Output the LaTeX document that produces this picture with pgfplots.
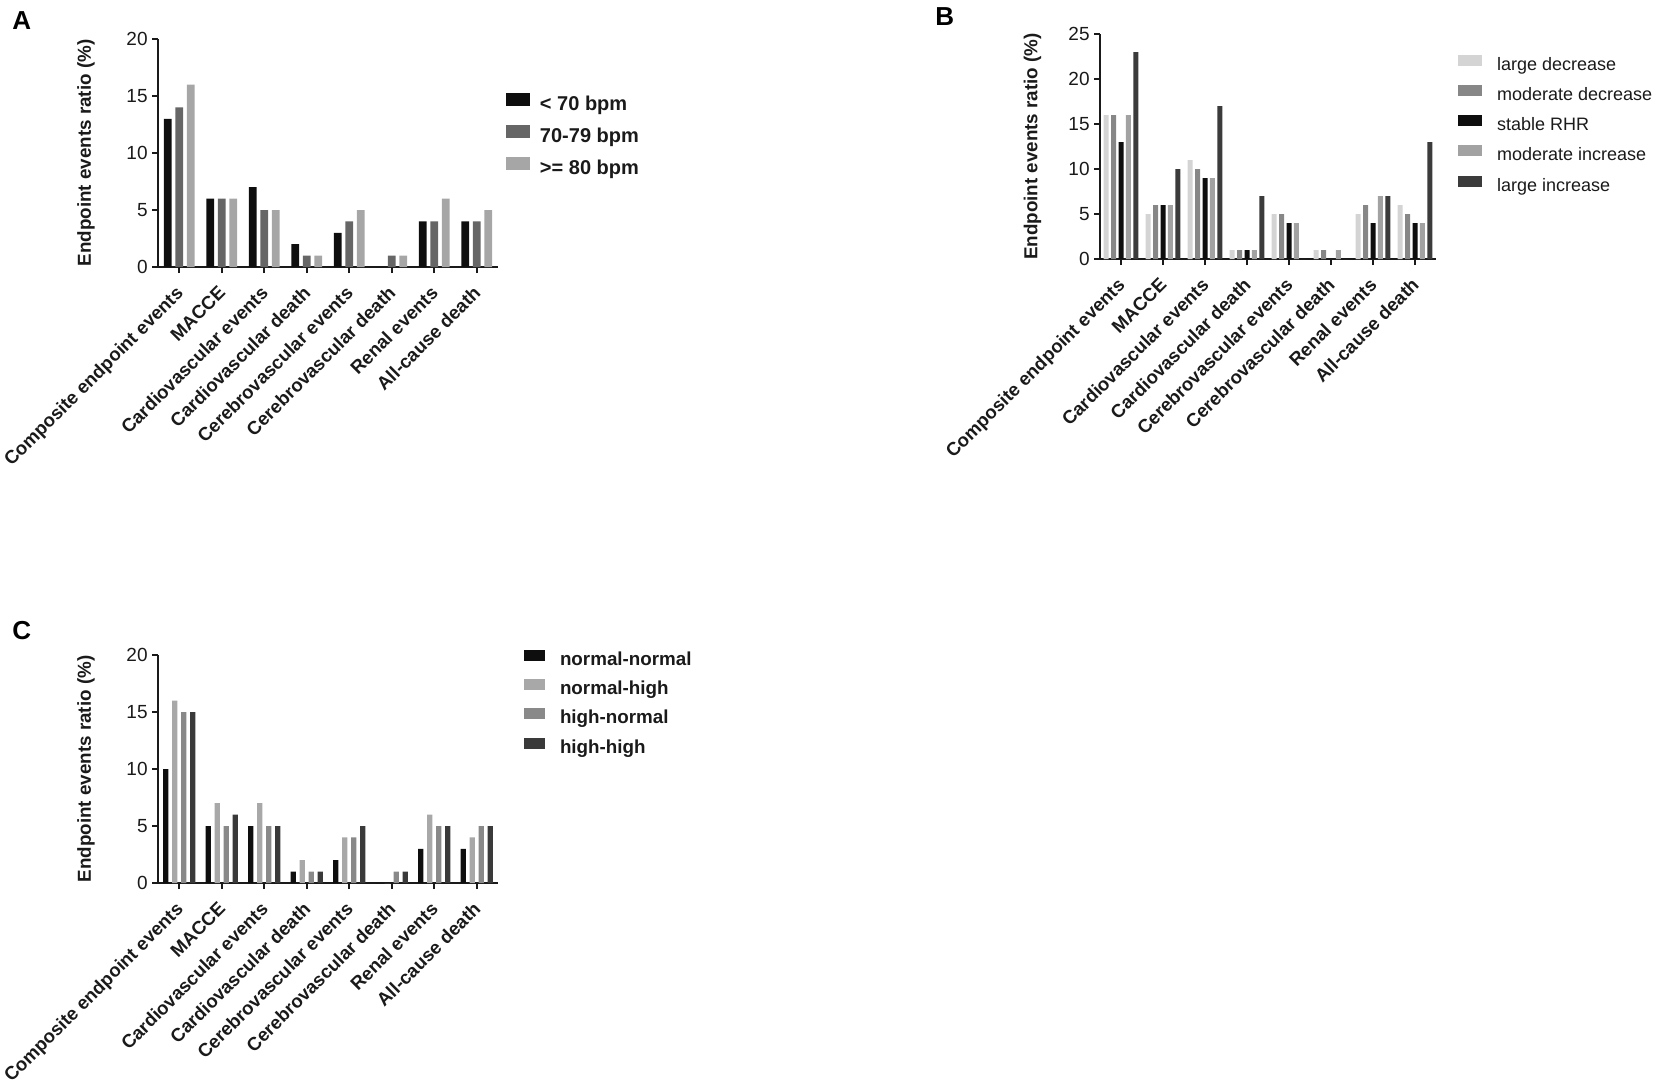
\documentclass[border=0pt]{standalone}
\usepackage{fontspec}
\setmainfont{Liberation Sans}
\usepackage{pgfplots}
\pgfplotsset{compat=1.18}

\definecolor{aA}{HTML}{0E0E0E}
\definecolor{aB}{HTML}{666666}
\definecolor{aC}{HTML}{A6A6A6}
\definecolor{bA}{HTML}{D4D4D4}
\definecolor{bB}{HTML}{878787}
\definecolor{bC}{HTML}{0E0E0E}
\definecolor{bD}{HTML}{A2A2A2}
\definecolor{bE}{HTML}{3B3B3B}
\definecolor{cA}{HTML}{0E0E0E}
\definecolor{cB}{HTML}{A8A8A8}
\definecolor{cC}{HTML}{898989}
\definecolor{cD}{HTML}{3A3A3A}
\definecolor{axc}{HTML}{1A1A1A}

\newcommand{\tf}{\fontsize{9}{10.8}\selectfont}
\newcommand{\lf}{\fontsize{9.4}{11}\selectfont}
\newcommand{\xf}{\fontsize{9.3}{11}\selectfont}
\newcommand{\yf}{\fontsize{9.5}{11}\selectfont}

\pgfplotsset{
  panel/.style={
    scale only axis,
    ybar,
    axis lines*=left,
    axis line style={line width=1pt, color=axc},
    major tick style={line width=1pt, color=axc},
    tick align=outside,
    major tick length=3pt,
    xmin=-0.5, xmax=7.5,
    ymin=0,
    xtick={0,...,7},
    xticklabels={Composite endpoint events, MACCE, Cardiovascular events, Cardiovascular death, Cerebrovascular events, Cerebrovascular death, Renal events, All-cause death},
    x tick label style={xshift=-2.3pt, yshift=-4.3pt, rotate=45, anchor=north east, font=\xf\bfseries, inner sep=1pt, text=axc},
    y tick label style={font=\yf, inner sep=2pt, text=axc},
    /pgf/number format/assume math mode=true,
    ylabel={Endpoint events ratio (\%)},
    clip=false,
    legend cell align=left,
  },
  ylab/.style={every axis y label/.style={at={(axis description cs:#1,0.5)}, rotate=90, anchor=center, font=\lf\bfseries, text=axc}},
}

\begin{document}
\begin{tikzpicture}
\path[use as bounding box] (0,0) rectangle (827pt,542pt);

% ---------- Panel A ----------
\begin{axis}[panel,
  at={(79pt,408.5pt)}, anchor=south west,
  width=170pt, height=114pt,
  ymax=20, ytick={0,5,10,15,20},
  ylab=-0.212,
  legend image code/.code={\fill[#1] (0pt,0pt) rectangle (12pt,6.5pt);},
  legend style={draw=none, fill=none, inner sep=0pt, outer sep=0pt,
    at={(1.0235,0.764)}, anchor=north west,
    nodes={inner sep=0pt, text height=6.5pt, text depth=2pt, font=\fontsize{10}{12}\selectfont\bfseries, text=axc},
    row sep=5.3pt, column sep=5pt},
]
\addplot[fill=aA, draw=none, bar width=3.85pt, bar shift=-5.75pt] coordinates {(0,13) (1,6) (2,7) (3,2) (4,3) (5,0) (6,4) (7,4)};
\addplot[fill=aB, draw=none, bar width=3.85pt, bar shift=0pt] coordinates {(0,14) (1,6) (2,5) (3,1) (4,4) (5,1) (6,4) (7,4)};
\addplot[fill=aC, draw=none, bar width=3.85pt, bar shift=5.75pt] coordinates {(0,16) (1,6) (2,5) (3,1) (4,5) (5,1) (6,6) (7,5)};
\legend{< 70 bpm, 70-79 bpm, >= 80 bpm}
\end{axis}

% ---------- Panel B ----------
\begin{axis}[panel,
  at={(550pt,412.5pt)}, anchor=south west,
  width=168pt, height=112.5pt,
  ymax=25, ytick={0,5,10,15,20,25},
  ylab=-0.201,
  legend image code/.code={\fill[#1] (0pt,0pt) rectangle (12pt,5.5pt);},
  legend style={draw=none, fill=none, inner sep=0pt, outer sep=0pt,
    at={(1.0655,0.906)}, anchor=north west,
    nodes={inner sep=0pt, text height=6.5pt, text depth=2pt, font=\tf, text=axc},
    row sep=5.3pt, column sep=7.5pt},
]
\addplot[fill=bA, draw=none, bar width=2.5pt, bar shift=-7.4pt] coordinates {(0,16) (1,5) (2,11) (3,1) (4,5) (5,1) (6,5) (7,6)};
\addplot[fill=bB, draw=none, bar width=2.5pt, bar shift=-3.7pt] coordinates {(0,16) (1,6) (2,10) (3,1) (4,5) (5,1) (6,6) (7,5)};
\addplot[fill=bC, draw=none, bar width=2.5pt, bar shift=0pt] coordinates {(0,13) (1,6) (2,9) (3,1) (4,4) (5,0) (6,4) (7,4)};
\addplot[fill=bD, draw=none, bar width=2.5pt, bar shift=3.7pt] coordinates {(0,16) (1,6) (2,9) (3,1) (4,4) (5,1) (6,7) (7,4)};
\addplot[fill=bE, draw=none, bar width=2.5pt, bar shift=7.4pt] coordinates {(0,23) (1,10) (2,17) (3,7) (4,0) (5,0) (6,7) (7,13)};
\legend{large decrease, moderate decrease, stable RHR, moderate increase, large increase}
\end{axis}

% ---------- Panel C ----------
\begin{axis}[panel,
  at={(79pt,100.5pt)}, anchor=south west,
  width=170pt, height=114pt,
  ymax=20, ytick={0,5,10,15,20},
  ylab=-0.212,
  legend image code/.code={\fill[#1] (0pt,0pt) rectangle (10.5pt,5.5pt);},
  legend style={draw=none, fill=none, inner sep=0pt, outer sep=0pt,
    at={(1.0765,1.024)}, anchor=north west,
    nodes={inner sep=0pt, text height=6.5pt, text depth=2pt, font=\fontsize{9.4}{11}\selectfont\bfseries, text=axc},
    row sep=4.97pt, column sep=7.5pt},
]
\addplot[fill=cA, draw=none, bar width=2.65pt, bar shift=-6.75pt] coordinates {(0,10) (1,5) (2,5) (3,1) (4,2) (5,0) (6,3) (7,3)};
\addplot[fill=cB, draw=none, bar width=2.65pt, bar shift=-2.25pt] coordinates {(0,16) (1,7) (2,7) (3,2) (4,4) (5,0) (6,6) (7,4)};
\addplot[fill=cC, draw=none, bar width=2.65pt, bar shift=2.25pt] coordinates {(0,15) (1,5) (2,5) (3,1) (4,4) (5,1) (6,5) (7,5)};
\addplot[fill=cD, draw=none, bar width=2.65pt, bar shift=6.75pt] coordinates {(0,15) (1,6) (2,5) (3,1) (4,5) (5,1) (6,5) (7,5)};
\legend{normal-normal, normal-high, high-normal, high-high}
\end{axis}

% panel letters
\node[anchor=north west, inner sep=0pt, font=\fontsize{13}{15}\selectfont\bfseries] at (6pt,536.5pt) {A};
\node[anchor=north west, inner sep=0pt, font=\fontsize{13}{15}\selectfont\bfseries] at (467.5pt,538.5pt) {B};
\node[anchor=north west, inner sep=0pt, font=\fontsize{13}{15}\selectfont\bfseries] at (6pt,231.5pt) {C};
\end{tikzpicture}
\end{document}
